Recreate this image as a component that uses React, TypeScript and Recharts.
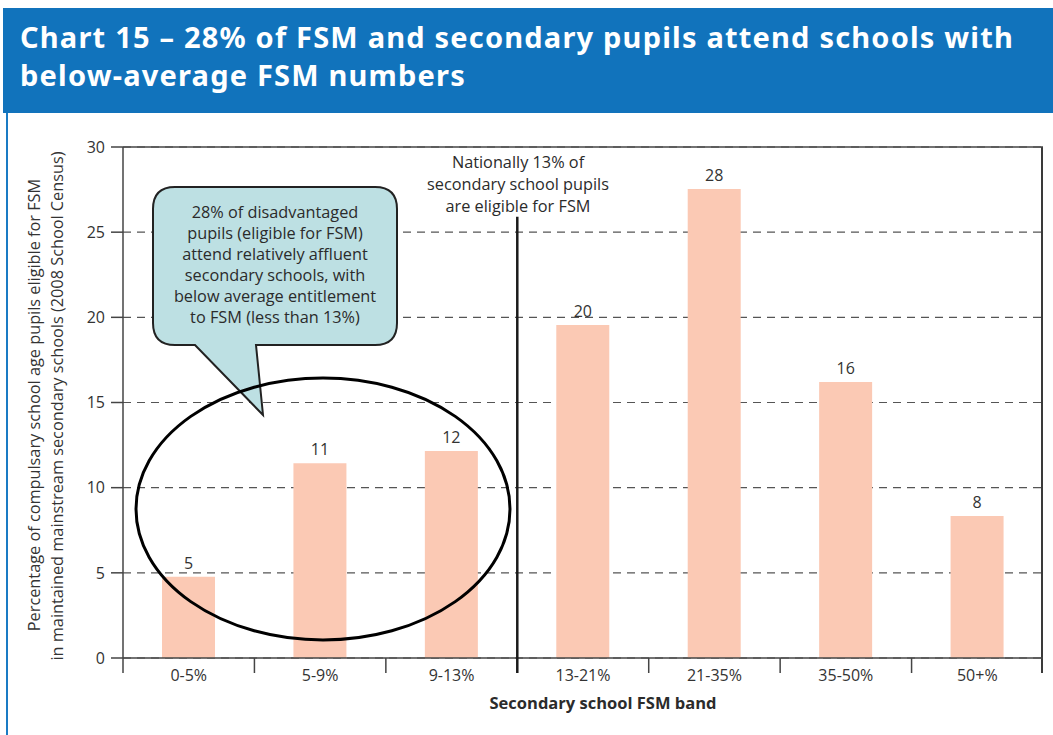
import { BarChart, Bar, XAxis, YAxis, CartesianGrid, ReferenceLine, LabelList, Label } from "recharts";

const BANDS = ["0-5%", "5-9%", "9-13%", "13-21%", "21-35%", "35-50%", "50+%"];
const SHARE = [4.77, 11.43, 12.15, 19.55, 27.53, 16.2, 8.34];
const Y_TICKS = [0, 5, 10, 15, 20, 25, 30];
const Y_MAX = 30;
const NATIONAL_BAND = 3; // boundary before 13-21%
const NATIONAL_TOP = 25.9;

const BUBBLE_LINES = [
  "28% of disadvantaged",
  "pupils (eligible for FSM)",
  "attend relatively affluent",
  "secondary schools, with",
  "below average entitlement",
  "to FSM (less than 13%)",
];
const NATIONAL_LINES = ["Nationally 13% of", "secondary school pupils", "are eligible for FSM"];

const data = BANDS.map((band, i) => ({ band, share: SHARE[i] }));

const FONT = "'Open Sans', 'Noto Sans', sans-serif";
const INK = "#2b2b2b";
const W = 1053;
const H = 735;
const PLOT_TOP = 147;
const PLOT_BOTTOM = 658;
const PLOT_LEFT = 123;
const PLOT_RIGHT = 1043;
const HALF_BAND = (PLOT_RIGHT - PLOT_LEFT) / BANDS.length / 2;
const PLOT_H = PLOT_BOTTOM - PLOT_TOP;

function BandTick(props: any) {
  const { x, y, payload, index } = props;
  const thick = index === NATIONAL_BAND;
  const lineTop = thick ? y - (NATIONAL_TOP / Y_MAX) * PLOT_H : y;
  return (
    <g>
      <line x1={x - HALF_BAND} x2={x - HALF_BAND} y1={lineTop} y2={y + 15} stroke={thick ? "#1a1a1a" : "#444"} strokeWidth={thick ? 2.5 : 1.5} />
      <text x={x} y={y + 23} textAnchor="middle" fill="#333" fontSize={16} fontFamily={FONT}>
        {payload.value}
      </text>
    </g>
  );
}

function YTitle() {
  return (
    <g fontFamily={FONT} fontSize={16.3} fill="#333" textAnchor="middle">
      <text transform="translate(40,405) rotate(-90)">Percentage of compulsary school age pupils eligible for FSM</text>
      <text transform="translate(63,406) rotate(-90)">in maintained mainstream secondary schools (2008 School Census)</text>
    </g>
  );
}

export default function App() {
  return (
    <div style={{ position: "absolute", left: 0, top: 0, width: W, height: H, overflow: "hidden", background: "#fff" }}>
      <div
        style={{
          position: "absolute",
          left: 3,
          top: 8,
          width: W - 3,
          height: 105,
          background: "#1173bc",
          color: "#fff",
          fontFamily: "'Noto Sans', sans-serif",
          fontWeight: 700,
          fontSize: 29,
          letterSpacing: "1.2px",
          lineHeight: "38px",
          padding: "10px 0 0 17px",
          boxSizing: "border-box",
          whiteSpace: "nowrap",
        }}
      >
        Chart 15 – 28% of FSM and secondary pupils attend schools with
        <br />
        below-average FSM numbers
      </div>
      <div style={{ position: "absolute", left: 6, top: 113, width: 2, height: H - 113, background: "#1a7bc4" }} />
      {/* right-hand frame of the plot, down through the last band tick */}
      <div style={{ position: "absolute", left: PLOT_RIGHT - 2, top: PLOT_TOP, width: 2, height: PLOT_H + 15, background: "#3a3a3a" }} />

      <div style={{ position: "absolute", left: 0, top: 0 }}>
        <BarChart width={W} height={H} data={data} margin={{ top: PLOT_TOP, right: W - PLOT_RIGHT, bottom: 37, left: 73 }}>
          <CartesianGrid vertical={false} stroke="#555" strokeWidth={1.2} strokeDasharray="8 6" />
          <XAxis
            dataKey="band"
            height={40}
            tickSize={0}
            tickMargin={0}
            axisLine={{ stroke: "#444", strokeWidth: 1.5 }}
            tick={<BandTick />}
            interval={0}
          >
            <Label
              value="Secondary school FSM band"
              content={() => (
                <text x={603} y={709} textAnchor="middle" fill={INK} fontSize={16.5} fontWeight={700} fontFamily={FONT}>
                  Secondary school FSM band
                </text>
              )}
            />
          </XAxis>
          <YAxis
            width={50}
            domain={[0, Y_MAX]}
            ticks={Y_TICKS}
            tickSize={12}
            tickMargin={6}
            axisLine={{ stroke: "#444", strokeWidth: 1.5 }}
            tickLine={{ stroke: "#444", strokeWidth: 1.5 }}
            tick={{ fill: "#333", fontSize: 16, fontFamily: FONT }}
            interval={0}
          >
            <Label content={() => <YTitle />} />
          </YAxis>
          <ReferenceLine y={Y_MAX} stroke="#444" strokeWidth={1.5} />
          <Bar dataKey="share" fill="#fbc9b4" barSize={53} isAnimationActive={false}>
            <LabelList
              dataKey="share"
              position="top"
              offset={8}
              formatter={(v: any) => Math.round(Number(v))}
              style={{ fill: "#333", fontSize: 16, fontFamily: FONT }}
            />
          </Bar>
        </BarChart>
      </div>

      <svg width={W} height={H} style={{ position: "absolute", left: 0, top: 0, pointerEvents: "none" }}>
        <g fontFamily={FONT} fontSize={16.3} fill={INK} textAnchor="middle">
          {NATIONAL_LINES.map((t, i) => (
            <text key={t} x={518} y={168 + i * 22}>
              {t}
            </text>
          ))}
        </g>
        <path
          d="M175,187 H375 Q397,187 397,209 V323 Q397,345 375,345 H256 L263,415 L195,345 H175 Q153,345 153,323 V209 Q153,187 175,187 Z"
          fill="#bde0e3"
          stroke="#222"
          strokeWidth={2}
        />
        <g fontFamily={FONT} fontSize={16.3} fill={INK} textAnchor="middle">
          {BUBBLE_LINES.map((t, i) => (
            <text key={t} x={275} y={218 + i * 21}>
              {t}
            </text>
          ))}
        </g>
        <ellipse cx={323} cy={509} rx={187} ry={131} fill="none" stroke="#000" strokeWidth={3} />
      </svg>
    </div>
  );
}
